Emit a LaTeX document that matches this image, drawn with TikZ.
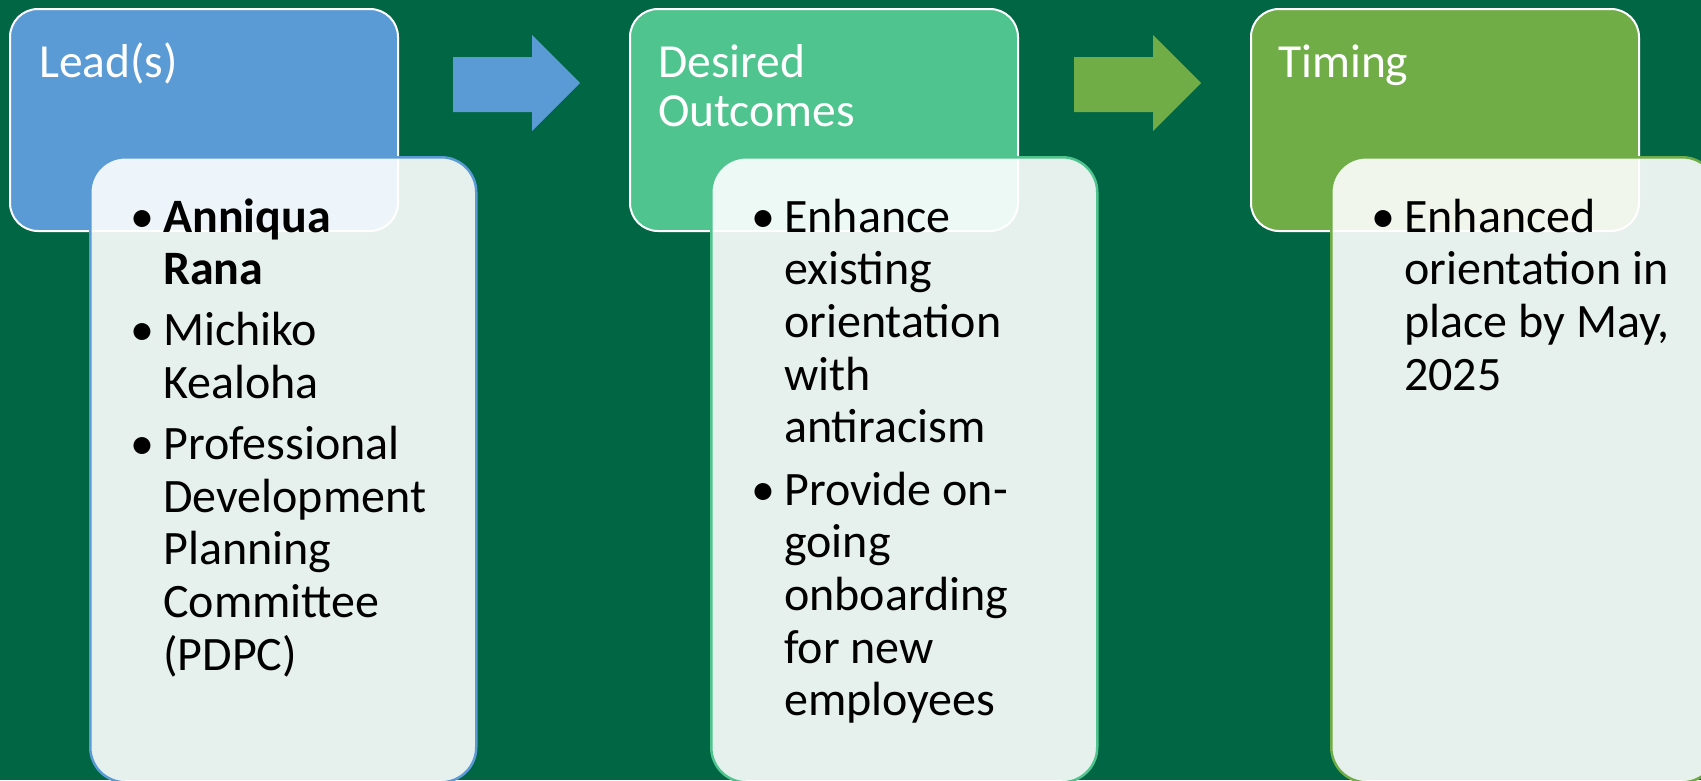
\documentclass[tikz,border=0pt]{standalone}
\usepackage{fontspec}
\setmainfont{Carlito}
\definecolor{bg}{HTML}{006643}
\definecolor{cblue}{HTML}{5B9BD5}
\definecolor{cteal}{HTML}{50C48F}
\definecolor{cgreen}{HTML}{70AD47}
\begin{document}
\begin{tikzpicture}[x=1pt,y=-1pt,
  topbox/.style={draw=white, line width=2pt, rounded corners=28pt, anchor=north west,
    minimum width=388pt, minimum height=222pt, inner sep=0pt},
  lowbox/.style={fill=white, fill opacity=0.9, line width=2.5pt, rounded corners=35pt,
    anchor=north west, minimum width=386pt, minimum height=625pt, inner sep=0pt},
  titletext/.style={anchor=base west, inner sep=0pt, text=white,
    font=\fontsize{47.5}{49}\selectfont, align=left},
  itemtext/.style={anchor=base west, inner sep=0pt, text=black,
    font=\fontsize{48}{52.7}\selectfont, align=left},
  bullet/.style={anchor=base west, inner sep=0pt, text=black,
    font=\fontsize{48}{52.7}\selectfont}
]
\useasboundingbox (0,0) rectangle (1701,780);
\clip (0,0) rectangle (1701,780);
\fill[bg] (0,0) rectangle (1701,780);

% column 1 (multi-line nodes are anchored at the baseline of their last line)
\node[topbox, fill=cblue] (leadbox) at (9,8) {};
\node[lowbox, draw=cblue] (leadbody) at (89,156) {};
\node[titletext] (leadtitle) at (39,77) {Lead(s)};
\node[bullet] (lb1) at (130,232) {•};
\node[itemtext] (li1) at (163,284.7) {\textbf{Anniqua}\\\textbf{Rana}};
\node[bullet] (lb2) at (130,345.7) {•};
\node[itemtext] (li2) at (163,398.4) {Michiko\\Kealoha};
\node[bullet] (lb3) at (130,459.4) {•};
\node[itemtext] (li3) at (163,670.2) {Professional\\Development\\Planning\\Committee\\(PDPC)};

% arrow 1
\fill[cblue] (453,57) -- (532,57) -- (532,35) -- (580,83) -- (532,131) -- (532,112) -- (453,112) -- cycle;

% column 2
\node[topbox, fill=cteal] (outbox) at (629,8) {};
\node[lowbox, draw=cteal] (outbody) at (710,156) {};
\node[titletext] (outtitle) at (658,126) {Desired\\Outcomes};
\node[bullet] (ob1) at (751,232) {•};
\node[itemtext] (oi1) at (784,442.8) {Enhance\\existing\\orientation\\with\\antiracism};
\node[bullet] (ob2) at (751,505) {•};
\node[itemtext] (oi2) at (784,715.8) {Provide on-\\going\\onboarding\\for new\\employees};

% arrow 2
\fill[cgreen] (1074,57) -- (1153,57) -- (1153,35) -- (1201,83) -- (1153,131) -- (1153,112) -- (1074,112) -- cycle;

% column 3
\node[topbox, fill=cgreen] (timbox) at (1250,8) {};
\node[lowbox, draw=cgreen] (timbody) at (1330,156) {};
\node[titletext] (timtitle) at (1278,77) {Timing};
\node[bullet] (tb1) at (1371,232) {•};
\node[itemtext] (ti1) at (1404,390.1) {Enhanced\\orientation in\\place by May,\\2025};
\end{tikzpicture}
\end{document}
